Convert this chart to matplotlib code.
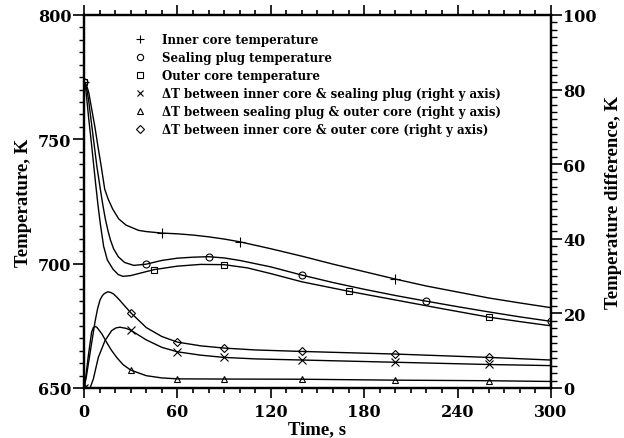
import numpy as np
import matplotlib.pyplot as plt
from matplotlib.ticker import MultipleLocator

# Temperaturas (eixo esquerdo), K
t_inner = [0, 1, 2, 3, 5, 7, 9, 11.1, 13.3, 15.5, 18.4, 22.3, 27, 35, 40, 50, 60, 70, 80, 90,
           100, 120, 140, 160, 180, 200, 220, 240, 260, 280, 300]
T_inner = [773, 772.5, 771, 769, 762, 755, 747, 739, 730, 726, 722, 718, 715.5, 713.4, 712.9,
           712.3, 712, 711.5, 710.8, 709.9, 708.8, 706, 703, 699.8, 696.8, 693.8, 691, 688.6,
           686.2, 684.2, 682.3]

t_plug = [0, 1, 2, 3, 4.7, 6.5, 8.3, 10.5, 12, 13.7, 15.5, 17, 19, 22, 26, 32, 40, 50, 60, 70,
          80, 90, 100, 120, 140, 160, 180, 200, 220, 240, 260, 280, 300]
T_plug = [773, 772, 769.5, 765.5, 757, 748, 739, 730, 724, 718, 713, 709.5, 706, 702.8, 700.5,
          699.3, 699.8, 701.3, 702.2, 702.6, 702.8, 702.3, 701.3, 698.7, 695.4, 692.4, 689.7,
          687.2, 684.9, 682.7, 680.6, 678.6, 676.8]

t_outer = [0, 1, 2, 3, 4.5, 6, 7.5, 9, 10.5, 12.6, 15, 18.6, 22, 25, 30, 35, 45, 60, 75, 90,
           105, 120, 140, 170, 200, 230, 260, 280, 300]
T_outer = [773, 771, 765, 758.5, 750, 741, 732, 723.5, 716, 707, 701.5, 697.8, 695.6, 694.9,
           695.2, 696, 697.6, 699, 699.7, 699.6, 698.3, 696, 692.7, 688.9, 685.4, 681.9, 678.5,
           676.7, 675]

# Diferencas de temperatura (eixo direito), K
t_dis = [0, 2, 3.9, 6, 9.2, 13.5, 17.8, 20.5, 23, 27, 30, 40, 50, 60, 75, 90, 110, 140, 170,
         200, 230, 260, 280, 300]
dT_is = [0, 0, 0, 2.4, 8.2, 12.7, 15.4, 16.1, 16.3, 16, 15.5, 12.9, 10.9, 9.7, 8.8, 8.2, 7.8,
         7.5, 7.2, 6.9, 6.6, 6.3, 6.15, 6.0]

t_dso = [0, 1, 2.8, 4.9, 6, 7.1, 8.2, 9.5, 11.5, 14.6, 17.5, 21, 25, 30, 40, 50, 60, 90, 140,
         200, 260, 300]
dT_so = [0, 2.5, 8.7, 15, 16.2, 16.5, 16.3, 15.6, 14.5, 12.2, 10.2, 8.2, 6.3, 4.8, 3.3, 2.7,
         2.45, 2.4, 2.35, 2.1, 1.95, 1.75]

t_dio = [0, 1.5, 3, 4.9, 7.1, 8.7, 10.3, 11.7, 13, 15.4, 17.2, 19, 21, 23, 27, 30, 40, 50, 60,
         75, 90, 110, 140, 170, 200, 230, 260, 280, 300]
dT_io = [0, 3, 7, 12, 17.8, 21.2, 23.6, 24.7, 25.3, 25.8, 25.6, 25.2, 24.4, 23.5, 21.6, 20.2,
         16.2, 13.8, 12.3, 11.3, 10.7, 10.2, 9.8, 9.45, 9.1, 8.65, 8.2, 7.85, 7.5]

# Instantes onde aparecem os marcadores
mk_inner = [0, 50, 100, 200]
mk_plug = [0, 40, 80, 140, 220, 300]
mk_outer = [0, 45, 90, 170, 260]
mk_dT = [0, 30, 60, 90, 140, 200, 260]

labels = ['Inner core temperature',
          'Sealing plug temperature',
          'Outer core temperature',
          '\u0394T between inner core & sealing plug (right y axis)',
          '\u0394T between sealing plug & outer core (right y axis)',
          '\u0394T between inner core & outer core (right y axis)']


def idx(t, marks):
    return [i for i, v in enumerate(t) if v in marks]


fig = plt.figure(figsize=(6.24, 4.39), dpi=100)
ax = fig.add_axes([0.1346, 0.1139, 0.7484, 0.8497])
ax2 = ax.twinx()

estilo = dict(color='black', lw=1.0, mfc='none', mec='black', mew=0.8, ms=5)
l1, = ax.plot(t_inner, T_inner, marker='+', markevery=idx(t_inner, mk_inner), label=labels[0],
              **{**estilo, 'ms': 6.5})
l2, = ax.plot(t_plug, T_plug, marker='o', markevery=idx(t_plug, mk_plug), label=labels[1], **estilo)
l3, = ax.plot(t_outer, T_outer, marker='s', markevery=idx(t_outer, mk_outer), label=labels[2], **estilo)
l4, = ax2.plot(t_dis, dT_is, marker='x', markevery=idx(t_dis, mk_dT), label=labels[3],
               **{**estilo, 'ms': 5.5})
l5, = ax2.plot(t_dso, dT_so, marker='^', markevery=idx(t_dso, mk_dT), label=labels[4], **estilo)
l6, = ax2.plot(t_dio, dT_io, marker='D', markevery=idx(t_dio, mk_dT), label=labels[5],
               **{**estilo, 'ms': 4.2})

ax.set_xlim(0, 300)
ax.set_ylim(650, 800)
ax2.set_ylim(0, 100)

ax.xaxis.set_major_locator(MultipleLocator(60))
ax.xaxis.set_minor_locator(MultipleLocator(10))
ax.yaxis.set_major_locator(MultipleLocator(50))
ax.yaxis.set_minor_locator(MultipleLocator(5))
ax2.yaxis.set_major_locator(MultipleLocator(20))
ax2.yaxis.set_minor_locator(MultipleLocator(2))

fonte_ticks = dict(family='DejaVu Serif', weight='bold', size=11.5)
ax.tick_params(axis='x', which='both', direction='out', top=True, width=1.2)
ax.tick_params(axis='x', which='major', length=7, pad=4)
ax.tick_params(axis='x', which='minor', length=3.5)
ax.tick_params(axis='y', which='major', direction='out', length=8, width=1.2, pad=1)
ax.tick_params(axis='y', which='minor', direction='out', length=3.5, width=1.0)
ax2.tick_params(axis='y', which='major', direction='out', length=8, width=1.2, pad=1)
ax2.tick_params(axis='y', which='minor', direction='out', length=4, width=1.0)
for a in (ax, ax2):
    for lab in a.get_xticklabels() + a.get_yticklabels():
        lab.set_fontproperties(fonte_ticks)
    for s in a.spines.values():
        s.set_linewidth(1.6)

fonte_eixos = dict(family='Liberation Serif', weight='bold', size=13.5)
ax.set_xlabel('Time, s', labelpad=0, **fonte_eixos)
ax.set_ylabel('Temperature, K', labelpad=4, **fonte_eixos)
ax2.set_ylabel('Temperature difference, K', labelpad=6, **fonte_eixos)

leg = ax2.legend(handles=[l1, l2, l3, l4, l5, l6], loc='upper left', bbox_to_anchor=(0.12, 0.952),
                 frameon=False, handlelength=0, handletextpad=1.9, labelspacing=0.42,
                 borderpad=0, borderaxespad=0, numpoints=1, markerscale=0.9,
                 prop=dict(family='DejaVu Serif', weight='bold', size=8.5))

plt.savefig('out.png', dpi=100)
